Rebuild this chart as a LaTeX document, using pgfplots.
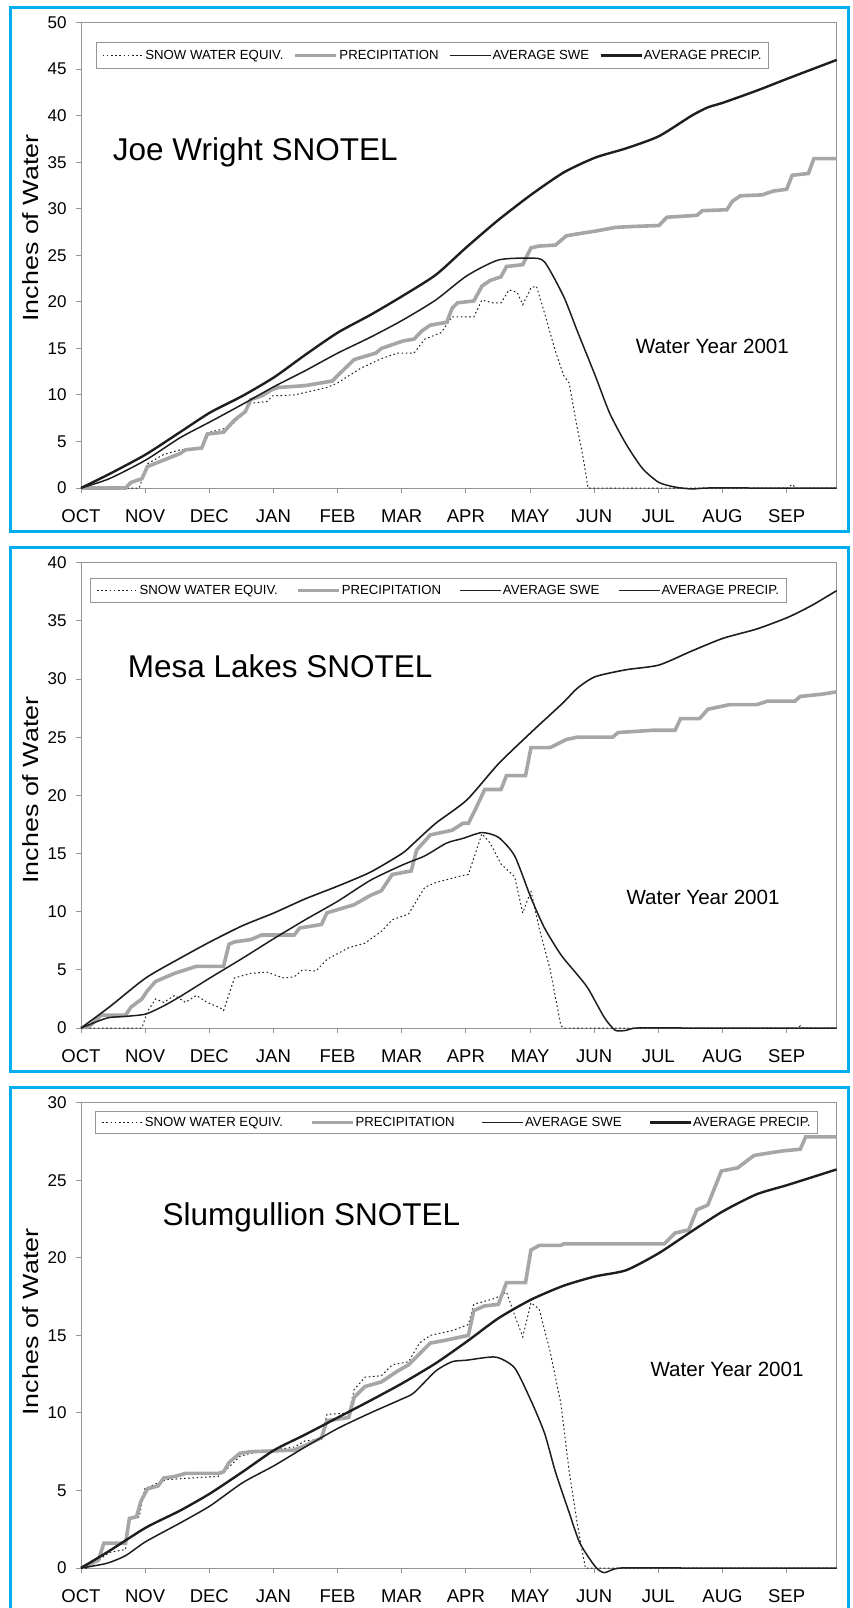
\documentclass[border=0pt]{standalone}
\usepackage{fontspec}
\setmainfont{Liberation Sans}
\usepackage{graphicx}
\usepackage{pgfplots}
\pgfplotsset{compat=1.18}
\definecolor{bordercyan}{RGB}{0,174,239}
\definecolor{precgray}{RGB}{166,166,166}
\definecolor{framegray}{RGB}{150,150,150}
\definecolor{ink}{RGB}{30,30,30}

\pgfplotsset{
  snotel/.style={
    scale only axis, width=755.7pt, height=465.3pt,
    anchor=south west,
    xmin=0, xmax=11.781, ymin=0,
    xtick={0,...,11},
    xticklabels={OCT,NOV,DEC,JAN,FEB,MAR,APR,MAY,JUN,JUL,AUG,SEP},
    xtick pos=bottom, ytick pos=left, tick align=outside,
    major tick length=5pt,
    ytick distance=5,
    axis line style={framegray, line width=1pt},
    every tick/.style={framegray, line width=1pt},
    /pgf/number format/assume math mode=true,
    yticklabel style={font=\fontsize{17}{17}\selectfont, anchor=east, inner sep=0pt, xshift=-9.3pt},
    xticklabel style={font=\fontsize{18.5}{18.5}\selectfont, anchor=north, inner sep=0pt, yshift=-16.7pt},
    clip=false,
    legend columns=4,
    legend image code/.code={\draw[##1] (0pt,0pt) -- (41pt,0pt);},
  },
  lgd/.style n args={3}{
    legend style={at={#1}, anchor=north west, draw=framegray, line width=0.8pt,
      fill=white, inner xsep=6pt, inner ysep=#3,
      font=\fontsize{13.2}{13.2}\selectfont,
      nodes={inner xsep=1.2pt, inner ysep=4.5pt, font=\fontsize{13.2}{13.2}\selectfont},
      /tikz/every even column/.append style={column sep=#2}},
  },
  swe/.style={ink, line width=1pt, dash pattern=on 1.6pt off 2.6pt},
  prc/.style={precgray, line width=3.6pt},
  aswe/.style={ink, line width=1.5pt, smooth, tension=0.4},
  aprc/.style={ink, line width=2.4pt, smooth, tension=0.4},
}

\begin{document}
\begin{tikzpicture}
\useasboundingbox (0pt,0pt) rectangle (853pt,-1608pt);

% ---------------- Panel 1 ----------------
\draw[bordercyan, line width=3pt] (10.5pt,-7.5pt) rectangle (848.5pt,-531.5pt);
\begin{axis}[snotel, at={(81pt,-488pt)}, ymax=50, lgd={(0.0195,0.958)}{9pt}{3pt}]
\addplot[swe] coordinates {(0,0) (0.908,0) (1.035,2.6) (1.289,3.6) (1.544,4.1) (1.883,4.3) (2.010,6.0) (2.307,6.5) (2.477,7.6) (2.646,9.1) (2.901,9.3) (2.986,9.9) (3.325,10.0) (3.579,10.4) (3.834,10.8) (4.003,11.3) (4.343,12.8) (4.682,13.9) (4.936,14.5) (5.191,14.5) (5.360,16.0) (5.615,16.7) (5.785,18.4) (6.124,18.4) (6.251,20.2) (6.421,19.9) (6.548,19.9) (6.675,21.3) (6.802,21.0) (6.887,19.7) (7.014,21.5) (7.099,21.7) (7.226,18.8) (7.396,14.7) (7.523,12.1) (7.608,11.3) (7.735,6.5) (7.820,3.6) (7.905,0) (11.018,0) (11.086,0.4) (11.145,0) (11.781,0)};
\addlegendentry{SNOW WATER EQUIV.}
\addplot[prc] coordinates {(0,0) (0.695,0) (0.780,0.6) (0.950,1.0) (1.035,2.3) (1.289,3.0) (1.544,3.7) (1.628,4.1) (1.883,4.3) (1.968,5.8) (2.222,6.0) (2.392,7.3) (2.561,8.2) (2.646,9.5) (2.816,9.9) (2.986,10.6) (3.070,10.8) (3.494,11.0) (3.919,11.5) (4.003,12.1) (4.258,13.8) (4.597,14.5) (4.682,15.0) (5.021,15.8) (5.191,16.0) (5.318,16.9) (5.445,17.5) (5.700,17.8) (5.785,19.3) (5.869,19.9) (6.124,20.1) (6.251,21.7) (6.378,22.3) (6.548,22.7) (6.633,23.8) (6.887,24.0) (7.014,25.8) (7.142,26.0) (7.396,26.1) (7.566,27.1) (7.735,27.3) (8.015,27.6) (8.329,28.0) (8.584,28.1) (9.008,28.2) (9.135,29.1) (9.601,29.3) (9.686,29.8) (10.068,29.9) (10.153,30.8) (10.280,31.4) (10.619,31.5) (10.789,31.9) (11.001,32.1) (11.086,33.6) (11.340,33.8) (11.425,35.4) (11.781,35.4)};
\addlegendentry{PRECIPITATION}
\addplot[aswe] coordinates {(0,0) (0.441,1.0) (1.009,3.0) (1.544,5.4) (2.010,7.1) (2.519,9.0) (3.011,10.9) (3.494,12.6) (4.003,14.5) (4.512,16.2) (5.004,18.0) (5.530,20.2) (6.014,22.8) (6.506,24.5) (7.014,24.7) (7.226,24.3) (7.523,20.6) (7.735,16.9) (8.015,12.1) (8.244,8.0) (8.499,4.7) (8.753,2.1) (9.008,0.6) (9.262,0.1) (9.517,-0.1) (9.771,0) (10.5,0) (11.781,0)};
\addlegendentry{AVERAGE SWE}
\addplot[aprc] coordinates {(0,0) (0.441,1.5) (1.009,3.6) (1.544,6.0) (2.010,8.1) (2.519,9.9) (3.011,11.9) (3.494,14.3) (4.003,16.7) (4.512,18.6) (5.004,20.6) (5.530,22.9) (6.014,25.9) (6.506,28.8) (7.014,31.5) (7.523,33.9) (8.015,35.5) (8.499,36.5) (9.008,37.8) (9.517,40.0) (9.771,40.9) (10.008,41.4) (10.534,42.7) (11.018,44.0) (11.781,46.0)};
\addlegendentry{AVERAGE PRECIP.}
\end{axis}
\node[anchor=base west, font=\fontsize{31.5}{31.5}\selectfont] at (109.3pt,-160.7pt) {Joe Wright SNOTEL};
\node[anchor=base west, font=\fontsize{20.6}{20.6}\selectfont] at (632.3pt,-353.3pt) {Water Year 2001};
\node[rotate=90, font=\fontsize{22}{22}\selectfont] at (30.5pt,-228pt) {\scalebox{1.22}[1]{Inches of Water}};

% ---------------- Panel 2 ----------------
\draw[bordercyan, line width=3pt] (10.5pt,-547.5pt) rectangle (848.5pt,-1071.5pt);
\begin{axis}[snotel, at={(81pt,-1028pt)}, ymax=40, lgd={(0.012,0.967)}{17pt}{2pt}, aprc/.style={ink, line width=1.6pt, smooth, tension=0.4}]
\addplot[swe] coordinates {(0,0) (0.950,0) (1.035,1.4) (1.162,2.5) (1.289,2.2) (1.459,2.8) (1.628,2.2) (1.798,2.8) (1.968,2.2) (2.180,1.7) (2.222,1.5) (2.392,4.3) (2.646,4.7) (2.901,4.8) (3.155,4.3) (3.325,4.4) (3.452,5.0) (3.664,4.9) (3.834,5.9) (4.173,6.9) (4.427,7.3) (4.682,8.3) (4.852,9.3) (5.106,9.8) (5.360,12.1) (5.530,12.5) (5.869,13.0) (6.039,13.2) (6.166,15.3) (6.251,16.7) (6.378,15.9) (6.548,14.1) (6.760,13.0) (6.887,9.9) (7.014,11.8) (7.142,8.6) (7.311,5.1) (7.481,0.2) (7.523,0) (11.18,0) (11.213,0.2) (11.25,0) (11.781,0)};
\addlegendentry{SNOW WATER EQUIV.}
\addplot[prc] coordinates {(0,0) (0.144,0.2) (0.314,1.1) (0.695,1.1) (0.780,1.8) (0.950,2.5) (1.035,3.2) (1.162,4.0) (1.289,4.3) (1.459,4.7) (1.628,5.0) (1.798,5.3) (2.222,5.3) (2.307,7.2) (2.392,7.4) (2.646,7.6) (2.816,8.0) (3.325,8.0) (3.410,8.6) (3.749,8.9) (3.834,9.9) (4.258,10.6) (4.512,11.4) (4.682,11.8) (4.852,13.2) (5.148,13.5) (5.233,15.3) (5.445,16.6) (5.785,17.0) (5.954,17.6) (6.039,17.6) (6.166,19.0) (6.293,20.5) (6.548,20.5) (6.633,21.7) (6.930,21.7) (7.014,24.1) (7.311,24.1) (7.566,24.8) (7.735,25.0) (8.287,25.0) (8.372,25.4) (8.923,25.6) (9.262,25.6) (9.347,26.6) (9.644,26.6) (9.771,27.4) (10.110,27.8) (10.534,27.8) (10.704,28.1) (11.128,28.1) (11.213,28.5) (11.552,28.7) (11.781,28.9)};
\addlegendentry{PRECIPITATION}
\addplot[aswe] coordinates {(0,0) (0.271,0.6) (0.441,0.9) (0.695,1.0) (1.009,1.2) (1.289,1.9) (1.544,2.7) (2.010,4.3) (2.519,6.0) (3.011,7.7) (3.494,9.3) (4.003,10.9) (4.512,12.7) (5.004,14.0) (5.360,14.8) (5.700,15.9) (5.954,16.3) (6.251,16.8) (6.506,16.4) (6.760,14.8) (7.014,11.2) (7.226,8.6) (7.481,6.3) (7.735,4.6) (7.905,3.4) (8.159,0.9) (8.329,-0.2) (8.499,-0.2) (8.668,0) (9.5,0) (11.781,0)};
\addlegendentry{AVERAGE SWE}
\addplot[aprc] coordinates {(0,0) (0.441,1.8) (1.009,4.3) (1.544,6.0) (2.010,7.4) (2.519,8.8) (3.011,9.9) (3.494,11.1) (4.003,12.2) (4.512,13.4) (5.004,15.0) (5.191,15.9) (5.530,17.6) (6.014,19.6) (6.506,22.7) (7.014,25.4) (7.523,28.0) (7.735,29.2) (8.015,30.2) (8.499,30.8) (9.008,31.2) (9.517,32.4) (10.008,33.5) (10.534,34.3) (11.018,35.3) (11.383,36.3) (11.781,37.6)};
\addlegendentry{AVERAGE PRECIP.}
\end{axis}
\node[anchor=base west, font=\fontsize{31.5}{31.5}\selectfont] at (124.3pt,-677.8pt) {Mesa Lakes SNOTEL};
\node[anchor=base west, font=\fontsize{20.6}{20.6}\selectfont] at (623pt,-904pt) {Water Year 2001};
\node[rotate=90, font=\fontsize{22}{22}\selectfont] at (30.5pt,-790pt) {\scalebox{1.22}[1]{Inches of Water}};

% ---------------- Panel 3 ----------------
\draw[bordercyan, line width=3pt] (10.5pt,-1087.5pt) rectangle (848.5pt,-1611.5pt);
\begin{axis}[snotel, at={(81pt,-1568pt)}, ymax=30, lgd={(0.0189,0.983)}{25.5pt}{1.5pt}]
\addplot[swe] coordinates {(0,0) (0.100,0) (0.441,1.0) (0.695,1.2) (0.755,3.1) (0.908,3.3) (0.992,5.1) (1.204,5.5) (1.332,5.7) (1.713,5.8) (2.137,5.9) (2.307,6.5) (2.477,7.2) (2.646,7.4) (2.986,7.6) (3.325,7.8) (3.494,8.2) (3.749,8.3) (3.834,9.9) (4.173,10.0) (4.258,11.5) (4.427,12.3) (4.682,12.4) (4.852,13.1) (5.106,13.3) (5.276,14.5) (5.445,15.0) (5.785,15.3) (6.039,15.7) (6.124,17.0) (6.463,17.4) (6.633,17.8) (6.760,16.3) (6.887,14.9) (7.014,17.1) (7.142,16.7) (7.311,14.0) (7.481,10.6) (7.608,6.3) (7.735,2.9) (7.863,0) (11.781,0)};
\addlegendentry{SNOW WATER EQUIV.}
\addplot[prc] coordinates {(0,0) (0.271,0.5) (0.356,1.6) (0.695,1.6) (0.755,3.2) (0.865,3.3) (0.933,4.3) (1.035,5.1) (1.204,5.3) (1.289,5.8) (1.459,5.9) (1.628,6.1) (2.137,6.1) (2.222,6.2) (2.307,6.8) (2.477,7.4) (2.646,7.5) (3.325,7.6) (3.494,7.9) (3.749,8.4) (3.834,9.5) (4.173,9.7) (4.258,11.0) (4.427,11.7) (4.682,12.0) (4.936,12.7) (5.106,13.1) (5.276,13.8) (5.445,14.5) (5.700,14.7) (6.039,15.0) (6.124,16.6) (6.293,16.9) (6.506,17.0) (6.633,18.4) (6.930,18.4) (7.014,20.5) (7.142,20.8) (7.481,20.8) (7.523,20.9) (9.092,20.9) (9.262,21.6) (9.474,21.8) (9.601,23.1) (9.771,23.4) (9.983,25.6) (10.238,25.8) (10.492,26.6) (10.789,26.8) (10.959,26.9) (11.213,27.0) (11.298,27.8) (11.781,27.8)};
\addlegendentry{PRECIPITATION}
\addplot[aswe] coordinates {(0,0) (0.399,0.3) (0.695,0.8) (1.009,1.7) (1.544,2.9) (2.010,4.0) (2.519,5.5) (3.011,6.6) (3.494,7.8) (4.003,9.0) (4.512,10.0) (5.004,10.9) (5.191,11.3) (5.530,12.7) (5.785,13.3) (6.014,13.4) (6.463,13.6) (6.760,12.9) (7.014,10.8) (7.226,8.7) (7.396,6.2) (7.608,3.6) (7.778,1.6) (8.015,0.1) (8.159,-0.3) (8.414,0) (9.5,0) (11.781,0)};
\addlegendentry{AVERAGE SWE}
\addplot[aprc] coordinates {(0,0) (0.441,1.1) (1.009,2.6) (1.544,3.7) (2.010,4.8) (2.519,6.2) (3.011,7.6) (3.494,8.6) (4.003,9.7) (4.512,10.8) (5.004,11.9) (5.530,13.2) (6.014,14.6) (6.506,16.1) (7.014,17.3) (7.523,18.2) (8.015,18.8) (8.499,19.2) (9.008,20.3) (9.517,21.7) (10.008,23.0) (10.534,24.1) (11.018,24.7) (11.781,25.7)};
\addlegendentry{AVERAGE PRECIP.}
\end{axis}
\node[anchor=base west, font=\fontsize{31.5}{31.5}\selectfont] at (159pt,-1225pt) {Slumgullion SNOTEL};
\node[anchor=base west, font=\fontsize{20.6}{20.6}\selectfont] at (647pt,-1376pt) {Water Year 2001};
\node[rotate=90, font=\fontsize{22}{22}\selectfont] at (30.5pt,-1322pt) {\scalebox{1.22}[1]{Inches of Water}};
\end{tikzpicture}
\end{document}
